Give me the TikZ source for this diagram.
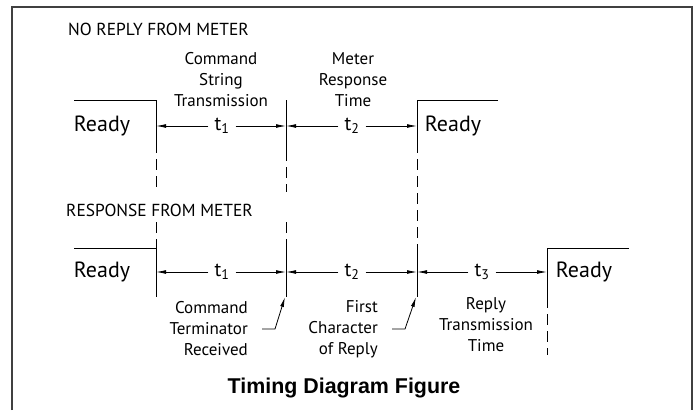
\documentclass[tikz,border=0pt]{standalone}
\usepackage{fontspec}
\setmainfont{PT Sans}
\newfontfamily\titlefont{Liberation Sans}
\usetikzlibrary{arrows.meta, positioning}
\tikzstyle{frame}   = [draw=black!75, line width=1.2pt]
\tikzstyle{signal}  = [line width=0.9pt]
\tikzstyle{gapline} = [line width=0.9pt, dash pattern=on 11pt off 6pt]
\tikzstyle{dimarrow} = [-{Latex[length=10pt,width=3.8pt]}, line width=0.8pt]
\tikzstyle{heading} = [anchor=west, inner sep=0pt, font=\fontsize{17.4}{20}\selectfont]
\tikzstyle{ready}   = [inner sep=0pt, font=\fontsize{22}{26}\selectfont]
\tikzstyle{tlabel}  = [inner sep=6pt, font=\fontsize{20}{24}\selectfont]
\tikzstyle{note}    = [inner sep=0pt, align=center, font=\fontsize{17}{21}\selectfont]

\begin{document}
\begin{tikzpicture}[x=1pt, y=-1pt]
    \useasboundingbox (0,0) rectangle (696,410);
    \draw[frame] (12,410) -- (12,7) -- (692,7) -- (692,410);

    % edges of the top trace
    \coordinate (e1) at (156,126);
    \coordinate (e2) at (286,126);
    \coordinate (e3) at (417,126);
    % edges of the bottom trace
    \coordinate (f1) at (156,272);
    \coordinate (f2) at (286,272);
    \coordinate (f3) at (417,272);
    \coordinate (f4) at (547,272);

    \node (noreply) [heading] at (68,29) {NO REPLY FROM METER};
    \node (cmdstr) [note] at (221,80) {Command\\String\\Transmission};
    \node (mrt) [note] at (353,80) {Meter\\Response\\Time};
    \node (rdy1) [ready] at (102,126) {Ready};
    \node (rdy2) [ready] at (453,126) {Ready};

    \draw[signal] (74,100) -- (156,100) -- (156,142);
    \draw[gapline] (156,142) -- (156,192);
    \draw[signal] (286,100) -- (286,150);
    \draw[gapline] (286,150) -- (286,192);
    \draw[signal] (498,100) -- (417,100) -- (417,142);
    \draw[gapline] (417,142) -- (417,250);

    \node (ta1) [tlabel] at (222,126) {t\textsubscript{1}};
    \node (ta2) [tlabel] at (352,126) {t\textsubscript{2}};
    \draw[dimarrow] (ta1) -- (e1);
    \draw[dimarrow] (ta1) -- (e2);
    \draw[dimarrow] (ta2) -- (e2);
    \draw[dimarrow] (ta2) -- (e3);

    \node (resp) [heading] at (66,210) {RESPONSE FROM METER};
    \node (rdy3) [ready] at (102,272) {Ready};
    \node (rdy4) [ready] at (584,272) {Ready};

    \draw[gapline] (156,222) -- (156,248);
    \draw[signal] (74,248) -- (156,248) -- (156,297);
    \draw[gapline] (286,222) -- (286,247);
    \draw[signal] (286,247) -- (286,297);
    \draw[signal] (417,250) -- (417,297);
    \draw[signal] (629,248) -- (547,248) -- (547,297);
    \draw[gapline] (547,297) -- (547,355);

    \node (tb1) [tlabel] at (222,272) {t\textsubscript{1}};
    \node (tb2) [tlabel] at (352,272) {t\textsubscript{2}};
    \node (tb3) [tlabel] at (482,272) {t\textsubscript{3}};
    \draw[dimarrow] (tb1) -- (f1);
    \draw[dimarrow] (tb1) -- (f2);
    \draw[dimarrow] (tb2) -- (f2);
    \draw[dimarrow] (tb2) -- (f3);
    \draw[dimarrow] (tb3) -- (f3);
    \draw[dimarrow] (tb3) -- (f4);

    \coordinate (term) at (285,297);
    \coordinate (first) at (416,297);
    \node (cmdterm) [note, align=right, anchor=east] at (248,329) {Command\\Terminator\\Received};
    \node (firstch) [note, align=right, anchor=east] at (378,329) {First\\Character\\of Reply};
    \node (replytx) [note] at (486,325) {Reply\\Transmission\\Time};
    \draw[dimarrow] ([xshift=14pt]cmdterm.east) -- ++(13,0) -- (term);
    \draw[dimarrow] ([xshift=14pt]firstch.east) -- ++(13,0) -- (first);

    \node (title) [font=\titlefont\bfseries\fontsize{21.4}{25}\selectfont] at (344,388) {Timing Diagram Figure};
\end{tikzpicture}
\end{document}
